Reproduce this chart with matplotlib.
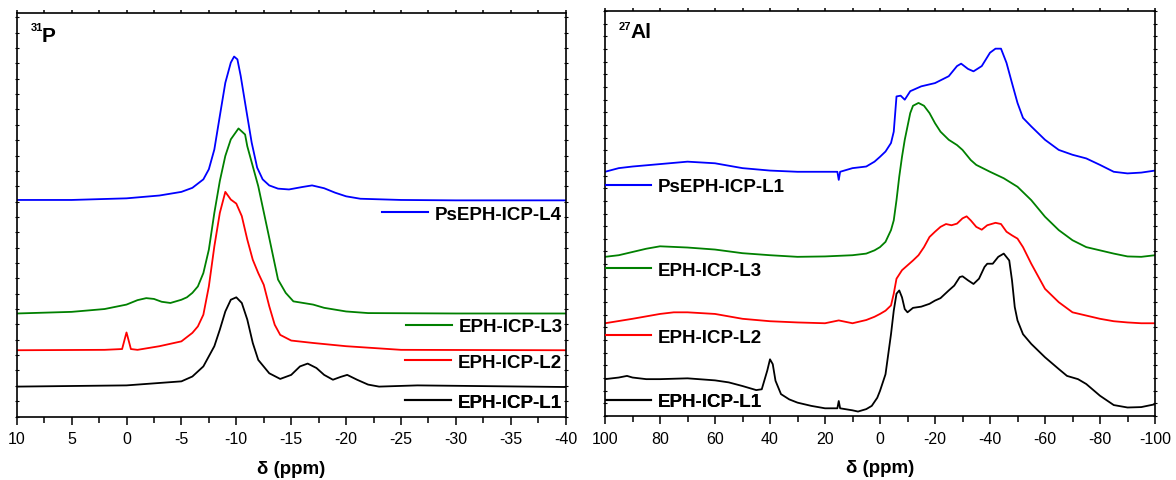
import matplotlib
matplotlib.use("Agg")
import matplotlib.pyplot as plt
from matplotlib.ticker import MultipleLocator
from matplotlib.lines import Line2D

plt.rcParams['font.family'] = ['Liberation Sans', 'DejaVu Sans']
plt.rcParams['axes.unicode_minus'] = False

# 31P spectra (ppm, intensity, offset stacked)
p_l4_x = [10, 5, 0, -3, -5, -6, -7, -7.5, -8, -8.5, -9, -9.5, -9.8, -10.1, -10.4, -10.9, -11.4, -11.9,
          -12.4, -13, -13.8, -14.8, -16, -16.9, -18, -19, -20, -21.3, -25, -30, -35, -40]
p_l4_y = [53.6, 53.6, 54.0, 54.7, 55.6, 56.6, 58.7, 61.2, 66.1, 74.4, 82.6, 87.6, 89.1, 88.4, 84.3, 76.0, 67.8, 61.6,
          58.7, 57.2, 56.4, 56.2, 56.8, 57.2, 56.5, 55.4, 54.5, 53.9, 53.6, 53.5, 53.5, 53.5]

p_l3_x = [10, 5, 2, 0, -1, -1.8, -2.5, -3.2, -4, -5, -5.5, -6, -6.5, -7, -7.5, -8, -8.5, -9, -9.5, -10.2,
          -10.8, -11, -12, -12.9, -13.8, -14.5, -15.2, -17, -18, -20, -22, -30, -40]
p_l3_y = [25.5, 25.9, 26.6, 27.7, 28.8, 29.3, 29.1, 28.4, 28.1, 28.9, 29.5, 30.6, 32.2, 35.5, 41.3, 50.4, 58.3, 64.5, 68.6, 71.3,
          69.8, 66.9, 57.0, 45.5, 33.9, 30.6, 28.5, 27.7, 26.9, 26.0, 25.6, 25.5, 25.5]

p_l2_x = [10, 2, 0.4, 0.1, 0, -0.1, -0.4, -1, -3, -5, -6, -6.5, -7, -7.5, -8, -8.5, -9, -9.5, -10, -10.5,
          -11, -11.5, -12, -12.5, -13, -13.5, -14, -15, -17, -20, -25, -40]
p_l2_y = [16.4, 16.5, 16.7, 19.8, 20.8, 19.8, 16.7, 16.5, 17.4, 18.6, 20.7, 22.3, 25.2, 32.2, 42.1, 50.4, 55.6, 53.7, 52.7, 49.6,
          43.8, 38.8, 35.5, 32.6, 27.3, 22.7, 20.2, 18.8, 18.2, 17.4, 16.5, 16.4]

p_l1_x = [10, 0, -3, -5, -6, -7, -8, -8.5, -9, -9.5, -10, -10.5, -11, -11.5, -12, -13, -14, -15, -15.8, -16.5,
          -17.3, -18, -18.8, -19.5, -20.1, -21, -22, -23, -26.5, -40]
p_l1_y = [7.4, 7.7, 8.3, 8.7, 9.9, 12.4, 17.4, 21.5, 26.0, 28.9, 29.5, 28.1, 24.0, 18.2, 14.0, 10.7, 9.3, 10.3, 12.4, 13.1,
          12.0, 10.3, 9.1, 9.8, 10.3, 9.1, 7.9, 7.4, 7.7, 7.3]

# 27Al spectra
al_ps1_x = [100, 95, 90, 80, 70, 60, 50, 40, 30, 20, 15.5, 15, 14.5, 10, 5, 2, 0, -2, -4, -5, -6, -7.5, -9, -11,
            -15, -20, -25, -28, -29.5, -32, -34, -37, -40, -42, -44, -46, -48, -50, -52, -55, -60, -65, -70,
            -75, -80, -85, -90, -95, -100]
al_ps1_y = [60.3, 61.2, 61.6, 62.2, 62.8, 62.4, 61.2, 60.6, 60.3, 60.3, 60.3, 58.3, 60.3, 61.2, 61.6, 62.8, 64.0, 65.3, 67.4, 70.2, 78.9, 79.1, 78.1, 80.2,
            81.4, 82.2, 83.9, 86.4, 87.0, 85.7, 85.1, 86.4, 89.7, 90.7, 90.7, 87.2, 82.2, 77.3, 73.6, 71.5, 68.2, 65.7, 64.5,
            63.6, 62.0, 60.3, 59.9, 60.1, 60.6]

al_l3_x = [100, 95, 90, 85, 80, 70, 60, 50, 40, 30, 20, 10, 5, 2, 0, -2, -4, -5, -6, -7, -8, -9, -10, -11, -12,
           -14, -16, -18, -20, -22, -25, -28, -30, -33, -35, -40, -45, -50, -55, -60, -65, -70, -75, -80, -85,
           -90, -95, -100]
al_l3_y = [39.3, 39.7, 40.5, 41.3, 41.9, 41.6, 41.1, 40.2, 39.7, 39.3, 39.4, 39.7, 40.1, 40.9, 41.7, 43.0, 45.9, 48.3, 53.3, 59.1, 64.0, 68.2, 71.5, 74.8, 76.6,
           77.3, 76.6, 74.8, 72.3, 70.2, 68.2, 66.9, 65.7, 63.2, 62.0, 60.3, 58.7, 56.6, 53.3, 49.2, 45.9, 43.4, 41.7, 40.9, 40.1,
           39.4, 39.3, 39.7]

al_l2_x = [100, 90, 80, 75, 70, 60, 50, 40, 30, 20, 15, 10, 5, 2, 0, -2, -4, -5, -6, -8, -10, -12, -14, -16, -18,
           -20, -22, -24, -26, -28, -30, -31.5, -33, -35, -37, -39, -42, -44, -46, -48, -50, -52, -55, -60, -65,
           -70, -75, -80, -85, -90, -95, -100]
al_l2_y = [22.9, 24.0, 25.2, 25.6, 25.6, 25.2, 24.0, 23.4, 23.1, 22.9, 23.6, 22.9, 23.7, 24.5, 25.2, 26.0, 27.3, 30.2, 33.9, 36.0, 37.2, 38.4, 39.7, 41.7, 44.2,
           45.5, 46.7, 47.4, 47.1, 47.5, 48.8, 49.3, 48.3, 46.7, 46.0, 47.1, 47.7, 47.4, 45.5, 44.6, 43.8, 41.7, 37.6, 31.4, 28.1,
           25.6, 24.8, 24.0, 23.4, 23.1, 22.9, 22.9]

al_l1_x = [100, 95, 92, 90, 85, 80, 70, 60, 55, 50, 45, 43, 41, 40, 39, 38, 36, 33, 30, 25, 20, 15.5, 15, 14.5,
           10, 8, 5, 3, 1, 0, -2, -4, -5, -6, -7, -8, -9, -10, -12, -15, -18, -20, -22, -25, -27, -29, -30, -32,
           -34, -36, -38, -39, -41, -43, -45, -47, -48, -49, -50, -52, -55, -60, -65, -68, -72, -75, -80, -85,
           -90, -95, -100]
al_l1_y = [9.1, 9.5, 9.9, 9.5, 9.1, 9.1, 9.3, 8.8, 8.3, 7.4, 6.4, 6.6, 11.2, 14.0, 12.8, 8.7, 5.4, 4.1, 3.3, 2.5, 1.9, 1.9, 3.7, 1.9,
           1.4, 1.1, 1.7, 2.5, 4.5, 6.2, 10.3, 20.2, 26.0, 30.2, 31.0, 29.3, 26.4, 25.6, 26.7, 27.0, 27.7, 28.5, 29.1, 31.0, 32.2, 34.3, 34.5, 33.5,
           32.6, 33.9, 36.8, 37.6, 37.6, 39.3, 40.1, 38.4, 33.5, 26.9, 23.6, 20.2, 17.8, 14.5, 11.6, 9.9, 9.1, 7.9, 5.0, 2.7,
           2.1, 2.2, 2.9]

p_names = ['PsEPH-ICP-L4', 'EPH-ICP-L3', 'EPH-ICP-L2', 'EPH-ICP-L1']
al_names = ['PsEPH-ICP-L1', 'EPH-ICP-L3', 'EPH-ICP-L2', 'EPH-ICP-L1']
colors = ['#0000ff', '#008000', '#ff0000', '#000000']

W, H = 1176, 481
fig = plt.figure(figsize=(W / 100, H / 100), dpi=100)
ax1 = fig.add_axes([16.7 / W, 1 - 417.5 / H, 549 / W, 404 / H])
ax2 = fig.add_axes([605 / W, 1 - 417 / H, 550 / W, 405 / H])


def style(ax, lim, major, minor, ystep):
	ax.set_xlim(lim)
	ax.set_ylim(0, 100)
	ax.xaxis.set_major_locator(MultipleLocator(major))
	ax.xaxis.set_minor_locator(MultipleLocator(minor))
	ax.yaxis.set_major_locator(MultipleLocator(ystep))
	ax.tick_params(axis='x', which='major', direction='out', length=5.5, width=1.1, labelsize=11.5, pad=5)
	ax.tick_params(axis='x', which='minor', direction='out', length=4, width=1.1)
	ax.tick_params(axis='x', which='both', top=True, labeltop=False)
	ax.tick_params(axis='y', which='both', direction='inout', length=3, width=0.8,
		left=True, right=True, labelleft=False, labelright=False)
	for s in ax.spines.values():
		s.set_linewidth(1.2)
	ax.set_xlabel('δ (ppm)', fontsize=13.5, fontweight='bold', labelpad=10)


style(ax1, (10, -40), 5, 2.5, 3.8)
style(ax2, (100, -100), 20, 10, 3.125)

# top ticks are tiny in the reference
for ax in (ax1, ax2):
	for t in ax.xaxis.get_major_ticks() + ax.xaxis.get_minor_ticks():
		t.tick2line.set_markersize(2)

p_sets = [(p_l4_x, p_l4_y), (p_l3_x, p_l3_y), (p_l2_x, p_l2_y), (p_l1_x, p_l1_y)]
al_sets = [(al_ps1_x, al_ps1_y), (al_l3_x, al_l3_y), (al_l2_x, al_l2_y), (al_l1_x, al_l1_y)]

for (x, y), c in zip(p_sets, colors):
	ax1.plot(x, y, color=c, lw=1.3)
for (x, y), c in zip(al_sets, colors):
	ax2.plot(x, y, color=c, lw=1.3)

# one legend per trace, placed beside its own baseline
p_leg_pos = [(0.665, 0.501), (0.710, 0.222), (0.707, 0.134), (0.707, 0.035)]
al_leg_pos = [(0.001, 0.566), (0.001, 0.360), (0.001, 0.194), (0.001, 0.035)]

for ax, names, pos in ((ax1, p_names, p_leg_pos), (ax2, al_names, al_leg_pos)):
	for name, c, (lx, ly) in zip(names, colors, pos):
		h = Line2D([], [], color=c, lw=1.5)
		leg = ax.legend([h], [name], loc='center left', bbox_to_anchor=(lx, ly), frameon=False,
			borderpad=0, borderaxespad=0, handlelength=2.45, handletextpad=0.35,
			prop={'size': 13.5, 'weight': 'bold'})
		ax.add_artist(leg)

ax1.text(0.026, 0.976, '31', transform=ax1.transAxes, fontsize=8, fontweight='bold', va='top', ha='left')
ax1.text(0.046, 0.929, 'P', transform=ax1.transAxes, fontsize=15, fontweight='bold', va='baseline', ha='left')
ax2.text(0.024, 0.976, '27', transform=ax2.transAxes, fontsize=8, fontweight='bold', va='top', ha='left')
ax2.text(0.047, 0.936, 'Al', transform=ax2.transAxes, fontsize=15, fontweight='bold', va='baseline', ha='left')

fig.savefig('out.png', dpi=100)
